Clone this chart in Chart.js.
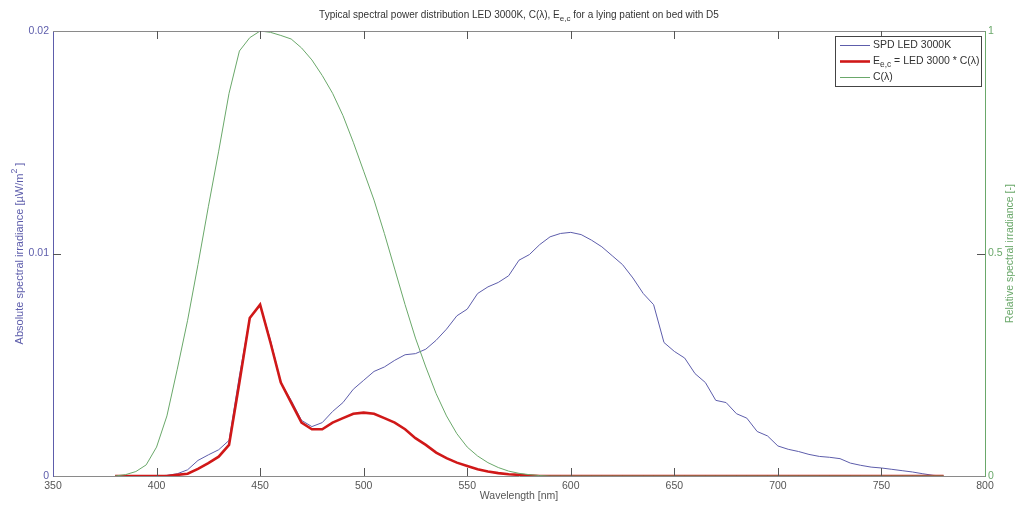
<!DOCTYPE html>
<html>
<head>
<meta charset="utf-8">
<script src="https://cdn.jsdelivr.net/npm/chart.js@4.4.1/dist/chart.umd.min.js"></script>
<style>
  html, body { margin: 0; padding: 0; background: #fff; overflow: hidden; }
  canvas { display: block; }
</style>
</head>
<body>
<canvas id="spd" width="1019" height="508"></canvas>
<script>
// Wavelength grid [nm]
const wavelengths = [
  380, 385, 390, 395, 400, 405, 410, 415, 420, 425,
  430, 435, 440, 445, 450, 455, 460, 465, 470, 475,
  480, 485, 490, 495, 500, 505, 510, 515, 520, 525,
  530, 535, 540, 545, 550, 555, 560, 565, 570, 575,
  580, 585, 590, 595, 600, 605, 610, 615, 620, 625,
  630, 635, 640, 645, 650, 655, 660, 665, 670, 675,
  680, 685, 690, 695, 700, 705, 710, 715, 720, 725,
  730, 735, 740, 745, 750, 755, 760, 765, 770, 775,
  780
];

// Absolute spectral irradiance of the LED 3000K [uW/m2]
const spdLed3000 = [
  0, 0, 0, 0, 0, 0.00003, 0.0001, 0.00028, 0.0007, 0.00095,
  0.00118, 0.0016, 0.0045, 0.0071, 0.0077, 0.0061, 0.0042, 0.0034, 0.0025, 0.00222,
  0.0024, 0.0029, 0.0033, 0.0039, 0.0043, 0.0047, 0.0049, 0.0052, 0.00545, 0.0055,
  0.0057, 0.0061, 0.0066, 0.0072, 0.0075, 0.0082, 0.0085, 0.0087, 0.009, 0.0097,
  0.00995, 0.0104, 0.01075, 0.0109, 0.01095, 0.01085, 0.0106, 0.0103, 0.0099, 0.0095,
  0.0089, 0.0082, 0.0077, 0.006, 0.0056, 0.0053, 0.0046, 0.0042, 0.0034, 0.0033,
  0.0028, 0.0026, 0.002, 0.0018, 0.00135, 0.0012, 0.0011, 0.00097, 0.00088, 0.00084,
  0.00078, 0.00058, 0.00048, 0.0004, 0.00036, 0.0003, 0.00024, 0.00018, 0.0001, 0.00003,
  0
];

// Effective irradiance E_e,c [uW/m2]
const effectiveIrr = [
  0, 0, 0, 0, 0, 0, 0.00005, 0.0001, 0.00032, 0.00058,
  0.00087, 0.0014, 0.0042, 0.0071, 0.0077, 0.006, 0.0042, 0.0033, 0.0024, 0.0021,
  0.0021, 0.0024, 0.0026, 0.0028, 0.00285, 0.0028, 0.0026, 0.0024, 0.0021, 0.0017,
  0.0014, 0.00105, 0.0008, 0.0006, 0.00045, 0.0003, 0.0002, 0.00013, 0.00008, 0.00005,
  0.00002, 0, 0, 0, 0, 0, 0, 0, 0, 0,
  0, 0, 0, 0, 0, 0, 0, 0, 0, 0,
  0, 0, 0, 0, 0, 0, 0, 0, 0, 0,
  0, 0, 0, 0, 0, 0, 0, 0, 0, 0,
  0
];

// Relative action spectrum C(lambda) [-]
const cLambda = [
  0, 0.003, 0.01, 0.025, 0.065, 0.135, 0.24, 0.35, 0.475, 0.605,
  0.73, 0.86, 0.955, 0.985, 1.0, 0.997, 0.99, 0.982, 0.962, 0.935,
  0.9, 0.86, 0.81, 0.75, 0.685, 0.62, 0.545, 0.465, 0.385, 0.31,
  0.245, 0.185, 0.135, 0.095, 0.065, 0.045, 0.03, 0.019, 0.011, 0.006,
  0.003, 0.001, 0, 0, 0, 0, 0, 0, 0, 0,
  0, 0, 0, 0, 0, 0, 0, 0, 0, 0,
  0, 0, 0, 0, 0, 0, 0, 0, 0, 0,
  0, 0, 0, 0, 0, 0, 0, 0, 0, 0,
  0
];

const xTicks = [350, 400, 450, 500, 550, 600, 650, 700, 750, 800];
const yTicks = [0, 0.01, 0.02];
const y2Ticks = [0, 0.5, 1];

const FONT = '"Liberation Sans", Arial, sans-serif';
const BLUE = '#5d5dab';
const RED = '#d01818';
const GREEN = '#6aa86a';
const GREY = '#8a8a8a';

const pts = (ys) => wavelengths.map((w, i) => ({ x: w, y: ys[i] }));

// Draws a run of text pieces, each optionally raised or lowered
function drawRich(ctx, parts, x, y, size, color, align) {
  ctx.fillStyle = color;
  ctx.textBaseline = 'middle';
  ctx.textAlign = 'left';
  const widths = parts.map(p => {
    ctx.font = (p.scale ? size * p.scale : size) + 'px ' + FONT;
    return ctx.measureText(p.t).width;
  });
  const total = widths.reduce((a, b) => a + b, 0);
  let cx = align === 'center' ? x - total / 2 : x;
  parts.forEach((p, i) => {
    ctx.font = (p.scale ? size * p.scale : size) + 'px ' + FONT;
    ctx.fillText(p.t, cx, y + (p.dy || 0));
    cx += widths[i];
  });
}

const frame = {
  id: 'frame',
  afterDraw(chart) {
    const { ctx, chartArea: a, scales } = chart;
    const TL = 8;
    ctx.save();
    ctx.lineWidth = 1;

    // top edge of the box
    ctx.strokeStyle = GREY;
    ctx.beginPath();
    ctx.moveTo(a.left, a.top + 0.5);
    ctx.lineTo(a.right, a.top + 0.5);
    ctx.stroke();

    // inward tick marks on bottom and top
    scales.x.ticks.forEach(t => {
      if (t.value <= scales.x.min || t.value >= scales.x.max) return;
      const px = Math.round(scales.x.getPixelForValue(t.value)) + 0.5;
      ctx.strokeStyle = '#555';
      ctx.beginPath();
      ctx.moveTo(px, a.bottom); ctx.lineTo(px, a.bottom - TL);
      ctx.moveTo(px, a.top); ctx.lineTo(px, a.top + TL);
      ctx.stroke();
    });
    scales.y.ticks.forEach(t => {
      if (t.value <= scales.y.min || t.value >= scales.y.max) return;
      const py = Math.round(scales.y.getPixelForValue(t.value)) + 0.5;
      ctx.strokeStyle = '#555';
      ctx.beginPath();
      ctx.moveTo(a.left, py); ctx.lineTo(a.left + TL, py);
      ctx.stroke();
    });
    scales.y2.ticks.forEach(t => {
      if (t.value <= scales.y2.min || t.value >= scales.y2.max) return;
      const py = Math.round(scales.y2.getPixelForValue(t.value)) + 0.5;
      ctx.strokeStyle = '#555';
      ctx.beginPath();
      ctx.moveTo(a.right, py); ctx.lineTo(a.right - TL, py);
      ctx.stroke();
    });

    // title
    drawRich(ctx, [
      { t: 'Typical spectral power distribution LED 3000K, C(\u03bb), E' },
      { t: 'e,c', scale: 0.8, dy: 4 },
      { t: ' for a lying patient on bed with D5' }
    ], (a.left + a.right) / 2, 15, 10, '#333', 'center');

    // axis titles
    drawRich(ctx, [{ t: 'Wavelength [nm]' }], (a.left + a.right) / 2, 496, 10.5, '#555', 'center');

    ctx.save();
    ctx.translate(20, (a.top + a.bottom) / 2);
    ctx.rotate(-Math.PI / 2);
    drawRich(ctx, [
      { t: 'Absolute spectral irradiance [\u00b5W/m' },
      { t: '2', scale: 0.8, dy: -5 },
      { t: ' ]' }
    ], 0, 0, 11, BLUE, 'center');
    ctx.restore();

    ctx.save();
    ctx.translate(1010, (a.top + a.bottom) / 2);
    ctx.rotate(-Math.PI / 2);
    drawRich(ctx, [{ t: 'Relative spectral irradiance [-]' }], 0, 0, 10.5, GREEN, 'center');
    ctx.restore();

    // legend box
    const lx = 835, ly = 36, lw = 146, lh = 50;
    ctx.fillStyle = '#fff';
    ctx.fillRect(lx, ly, lw, lh);
    ctx.strokeStyle = '#444';
    ctx.strokeRect(lx + 0.5, ly + 0.5, lw, lh);
    const rows = [
      { y: 45, color: BLUE, w: 1, parts: [{ t: 'SPD LED 3000K' }] },
      { y: 61, color: RED, w: 2.6, parts: [{ t: 'E' }, { t: 'e,c', scale: 0.8, dy: 4 }, { t: ' = LED 3000 * C(\u03bb)' }] },
      { y: 77, color: GREEN, w: 1, parts: [{ t: 'C(\u03bb)' }] }
    ];
    rows.forEach(r => {
      ctx.strokeStyle = r.color;
      ctx.lineWidth = r.w;
      ctx.beginPath();
      ctx.moveTo(840, r.y + 0.5);
      ctx.lineTo(870, r.y + 0.5);
      ctx.stroke();
      drawRich(ctx, r.parts, 873, r.y, 10.5, '#333', 'left');
    });
    ctx.restore();
  }
};

new Chart(document.getElementById('spd'), {
  type: 'line',
  data: {
    datasets: [
      { label: 'SPD LED 3000K', data: pts(spdLed3000), yAxisID: 'y', borderColor: BLUE, borderWidth: 1, pointRadius: 0, order: 3 },
      { label: 'E e,c = LED 3000 * C(\u03bb)', data: pts(effectiveIrr), yAxisID: 'y', borderColor: RED, borderWidth: 2.6, pointRadius: 0, order: 2 },
      { label: 'C(\u03bb)', data: pts(cLambda), yAxisID: 'y2', borderColor: GREEN, borderWidth: 1, pointRadius: 0, order: 1 }
    ]
  },
  options: {
    responsive: false,
    animation: false,
    devicePixelRatio: 1,
    layout: { padding: { top: 31, left: 0, right: 0, bottom: 0 } },
    plugins: { legend: { display: false }, title: { display: false }, tooltip: { enabled: false } },
    scales: {
      x: {
        type: 'linear', min: 350, max: 800,
        afterBuildTicks: s => { s.ticks = xTicks.map(v => ({ value: v })); },
        ticks: { color: '#555', font: { family: FONT, size: 10.5 }, padding: 4, maxRotation: 0, autoSkip: false },
        grid: { display: false, drawTicks: false },
        border: { color: GREY },
        afterFit: s => { s.height = 32; }
      },
      y: {
        position: 'left', min: 0, max: 0.02,
        afterBuildTicks: s => { s.ticks = yTicks.map(v => ({ value: v })); },
        ticks: { color: BLUE, font: { family: FONT, size: 10.5 }, padding: 4, callback: v => String(v) },
        grid: { display: false, drawTicks: false },
        border: { color: BLUE },
        afterFit: s => { s.width = 53; }
      },
      y2: {
        position: 'right', min: 0, max: 1,
        afterBuildTicks: s => { s.ticks = y2Ticks.map(v => ({ value: v })); },
        ticks: { color: GREEN, font: { family: FONT, size: 10.5 }, padding: 3, callback: v => String(v) },
        grid: { display: false, drawTicks: false },
        border: { color: GREEN },
        afterFit: s => { s.width = 34; }
      }
    }
  },
  plugins: [frame]
});
</script>
</body>
</html>
